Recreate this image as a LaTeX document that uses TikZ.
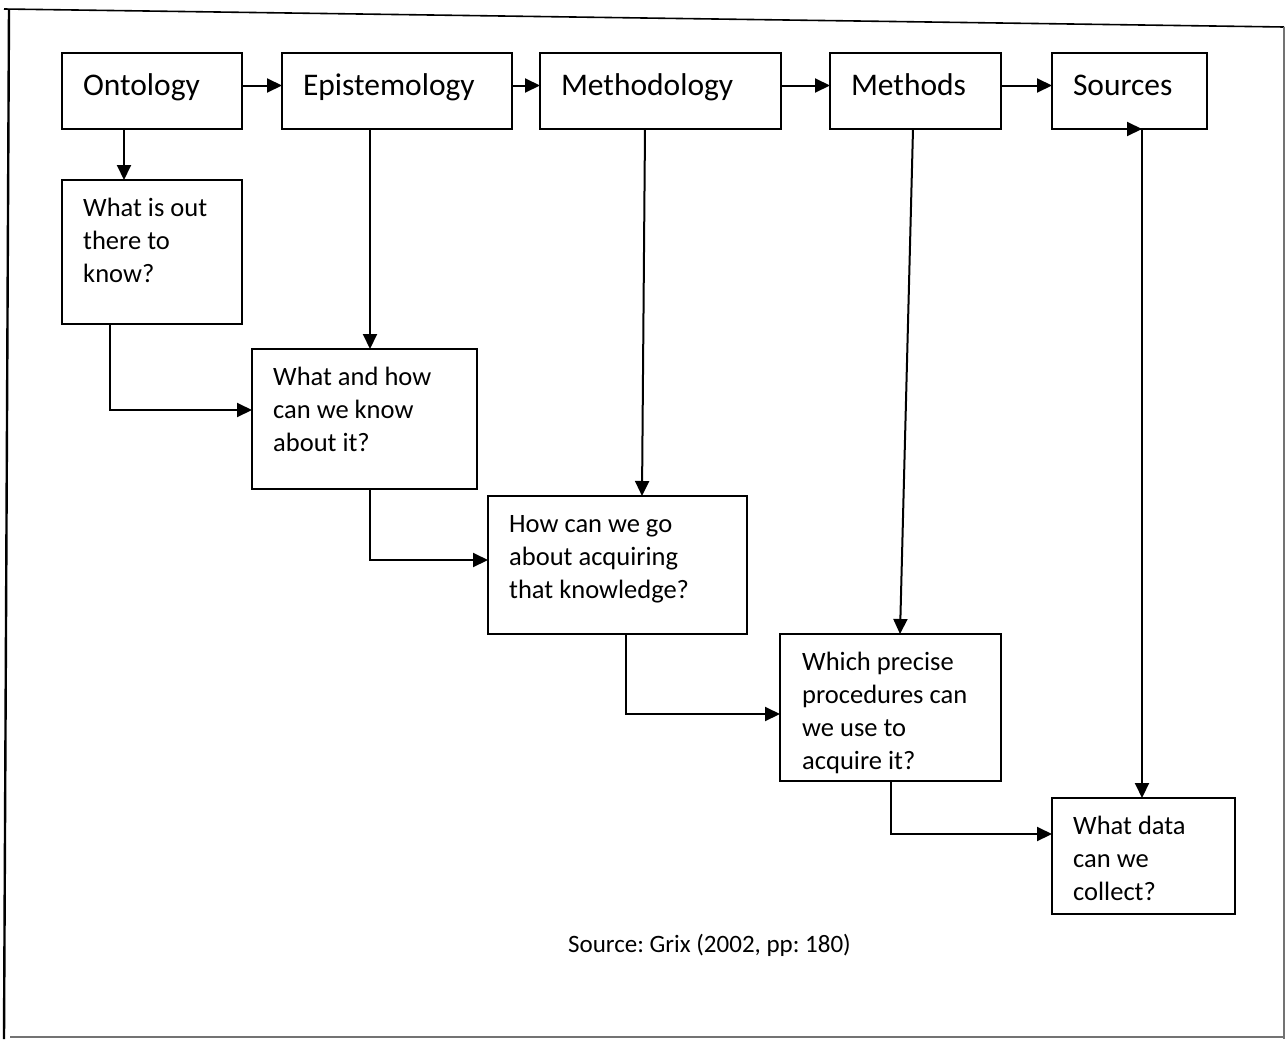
\documentclass[tikz,border=0pt]{standalone}
\usepackage{fontspec}
\setmainfont{Carlito}
\usetikzlibrary{arrows.meta}
\frenchspacing
\begin{document}
\begin{tikzpicture}[x=1pt,y=-1pt,
  box/.style={draw=black, line width=1.6pt, anchor=north west, inner sep=0pt, outer sep=0pt},
  headbox/.style={box, font=\fontsize{31.5}{38}\selectfont, align=left,
    inner xsep=21pt, text height=22pt, text depth=14pt, minimum height=76pt},
  qtext/.style={anchor=north west, inner sep=0pt, align=left,
    font=\fontsize{26.5}{33}\selectfont},
  conn/.style={line width=2pt, -{Triangle[length=15pt,width=14pt]}},
  edge/.style={line width=1.2pt, draw=black!55}
]
\useasboundingbox (0,0) rectangle (1285,1039);

% page frame
\draw[line width=1.6pt] (4,9) -- (1284,27);
\draw[line width=2.4pt] (9,9) -- (4,1039);
\draw[edge] (1284,27) -- (1284,1039);
\draw[edge] (10,1037) -- (1284,1037);

% top row
\node[headbox, text width=138pt] (onto)  at (62,53)   {Ontology};
\node[headbox, text width=188pt] (epis)  at (282,53)  {Epistemology};
\node[headbox, text width=199pt] (methy) at (540,53)  {Methodology};
\node[headbox, text width=129pt] (meths) at (830,53)  {Methods};
\node[headbox, text width=113pt] (srcs)  at (1052,53) {Sources};

% question boxes
\node[box, minimum width=180pt, minimum height=144pt] (q1) at (62,180) {};
\node[box, minimum width=225pt, minimum height=140pt] (q2) at (252,349) {};
\node[box, minimum width=259pt, minimum height=138pt] (q3) at (488,496) {};
\node[box, minimum width=221pt, minimum height=147pt] (q4) at (780,634) {};
\node[box, minimum width=183pt, minimum height=116pt] (q5) at (1052,798) {};

\node[qtext] (t1) at ([shift={(21pt,-18pt)}]q1.north west) {What is out\\there to\\know?};
\node[qtext] (t2) at ([shift={(21pt,-18pt)}]q2.north west) {What and how\\can we know\\about it?};
\node[qtext] (t3) at ([shift={(21pt,-19pt)}]q3.north west) {How can we go\\about acquiring\\that knowledge?};
\node[qtext] (t4) at ([shift={(22pt,-18pt)}]q4.north west) {Which precise\\procedures can\\we use to\\acquire it?};
\node[qtext] (t5) at ([shift={(21pt,-18pt)}]q5.north west) {What data\\can we\\collect?};

% arrows along the top row
\draw[conn] ([yshift=5.5pt]onto.east)  -- ([yshift=5.5pt]epis.west);
\draw[conn] ([yshift=5.5pt]epis.east)  -- ([yshift=5.5pt]methy.west);
\draw[conn] ([yshift=5.5pt]methy.east) -- ([yshift=5.5pt]meths.west);
\draw[conn] ([yshift=5.5pt]meths.east) -- ([yshift=5.5pt]srcs.west);

% arrows down from the top row
\draw[conn] ([xshift=62pt]onto.south west)  -- ([xshift=62pt]q1.north west);
\draw[conn] ([xshift=88pt]epis.south west)  -- ([xshift=118pt]q2.north west);
\draw[conn] ([xshift=105pt]methy.south west) -- ([xshift=154pt]q3.north west);
\draw[conn] ([xshift=83pt]meths.south west) -- ([xshift=120pt]q4.north west);
\draw[conn] ([xshift=90pt]srcs.south west)  -- ([xshift=90pt]q5.north west);
\draw[conn] ([xshift=88pt]srcs.south west)  -- ([xshift=90pt]srcs.south west);

% elbow arrows between the question boxes
\draw[conn] ([xshift=48pt]q1.south west)  |- ([yshift=-61pt]q2.north west);
\draw[conn] ([xshift=118pt]q2.south west) |- ([yshift=-64pt]q3.north west);
\draw[conn] ([xshift=138pt]q3.south west) |- ([yshift=-80pt]q4.north west);
\draw[conn] ([xshift=111pt]q4.south west) |- ([yshift=-36pt]q5.north west);

% source line
\node[anchor=base west, inner sep=0pt, font=\fontsize{25}{30}\selectfont] (cap) at (568,952) {Source: Grix (2002, pp: 180)};
\end{tikzpicture}
\end{document}
